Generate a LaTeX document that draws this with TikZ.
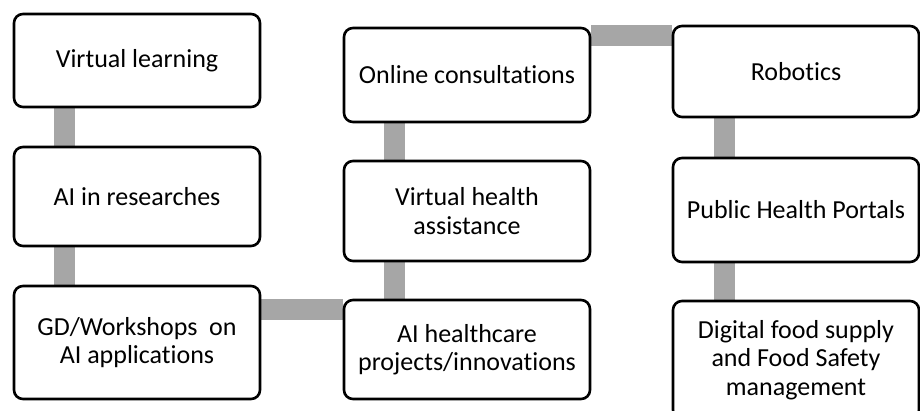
\documentclass[tikz,border=0pt]{standalone}
\usepackage{fontspec}
\setmainfont{Carlito}[Ligatures=NoCommon]
\usetikzlibrary{backgrounds}
\definecolor{linkgray}{HTML}{A6A6A6}

\begin{document}
\begin{tikzpicture}[x=1pt,y=-1pt,
  box/.style={draw=black, line width=2.6pt, rounded corners=9pt, fill=white,
    minimum width=246pt, inner sep=0pt, align=center,
    font=\fontsize{26}{28.5}\selectfont},
  link/.style={draw=linkgray, line width=21pt}]
\useasboundingbox (0,0) rectangle (920,411);
% left column
\node[box, minimum height=93pt]  (vl) at (137,60.5)  {Virtual learning};
\node[box, minimum height=99pt]  (ar) at (137,196.5) {AI in researches};
\node[box, minimum height=113pt] (gd) at (137,342.5) {GD/Workshops\ \ on\\AI applications};
% middle column
\node[box, minimum height=94pt]  (oc) at (467,75)    {Online consultations};
\node[box, minimum height=100pt] (vh) at (467,211)   {Virtual health\\assistance};
\node[box, minimum height=99pt]  (hc) at (467,349.5) {AI healthcare\\projects/innovations};
% right column
\node[box, minimum height=91pt]  (rb) at (796,71.5)  {Robotics};
\node[box, minimum height=104pt] (ph) at (796,210)   {Public Health Portals};
\node[box, minimum height=118pt] (df) at (796,360)   {Digital food supply\\and Food Safety\\management};
% grey bars behind the boxes
\begin{scope}[on background layer]
\draw[link] ([xshift=-73pt]vl.south) -- ([xshift=-73pt]ar.north);
\draw[link] ([xshift=-73pt]ar.south) -- ([xshift=-73pt]gd.north);
\draw[link] ([yshift=33pt]gd.east) -- ([yshift=33pt]gd.east -| hc.west);
\draw[link] ([xshift=-73pt]hc.north) -- ([xshift=-73pt]vh.south);
\draw[link] ([xshift=-73pt]vh.north) -- ([xshift=-73pt]oc.south);
\draw[link] ([yshift=39pt]oc.east) -- ([yshift=39pt]oc.east -| rb.west);
\draw[link] ([xshift=-72pt]rb.south) -- ([xshift=-72pt]ph.north);
\draw[link] ([xshift=-72pt]ph.south) -- ([xshift=-72pt]df.north);
\end{scope}
\end{tikzpicture}
\end{document}
